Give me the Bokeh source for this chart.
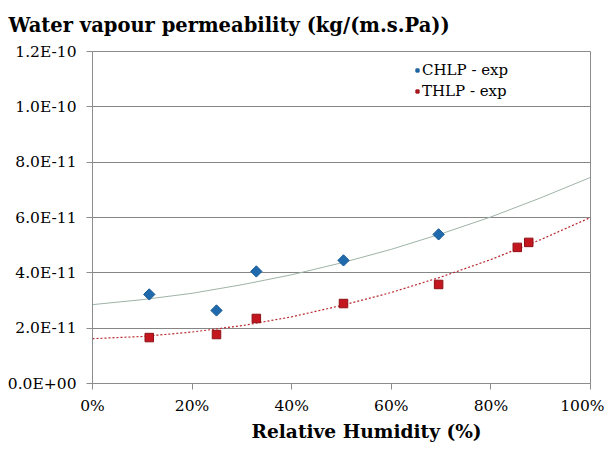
from bokeh.plotting import figure
from bokeh.models import (FixedTicker, CustomJSTickFormatter, NumeralTickFormatter,
                          Range1d, Title, Legend, LegendItem)
from bokeh.embed import file_html
from bokeh.resources import INLINE
import math

# --- data ---
rh_chlp = [0.114, 0.249, 0.329, 0.504, 0.695]
perm_chlp = [3.22e-11, 2.64e-11, 4.05e-11, 4.45e-11, 5.39e-11]

rh_thlp = [0.114, 0.249, 0.329, 0.504, 0.695, 0.853, 0.876]
perm_thlp = [1.66e-11, 1.77e-11, 2.35e-11, 2.89e-11, 3.58e-11, 4.92e-11, 5.10e-11]

# trend curves
trend_rh = [0.0, 0.1, 0.2, 0.3, 0.4, 0.5, 0.6, 0.7, 0.8, 0.9, 1.0]
trend_chlp = [2.85e-11, 3.03e-11, 3.26e-11, 3.57e-11, 3.93e-11, 4.36e-11,
              4.85e-11, 5.41e-11, 6.02e-11, 6.71e-11, 7.45e-11]
trend_thlp = [1.62e-11, 1.70e-11, 1.86e-11, 2.09e-11, 2.41e-11, 2.82e-11,
              3.29e-11, 3.85e-11, 4.48e-11, 5.20e-11, 6.0e-11]

y_ticks = [0.0, 2e-11, 4e-11, 6e-11, 8e-11, 1e-10, 1.2e-10]
x_ticks = [0.0, 0.2, 0.4, 0.6, 0.8, 1.0]

title_text = "Water vapour permeability (kg/(m.s.Pa))"
x_label = "Relative Humidity (%)"
FONT = "DejaVu Serif"

p = figure(width=604, height=444, output_backend="svg", toolbar_location=None,
           x_range=Range1d(0, 1), y_range=Range1d(0, 1.2e-10),
           min_border_left=92, min_border_right=14, min_border_top=51,
           min_border_bottom=61)

p.add_layout(Title(text=title_text, align="left", offset=-84,
                   vertical_align="top",
                   text_font=FONT, text_font_size="19.5px", text_font_style="bold",
                   text_color="#000000", standoff=26), "above")

p.background_fill_color = "#ffffff"
p.border_fill_color = "#ffffff"
p.outline_line_color = "#8c8c8c"
p.outline_line_width = 1

p.xgrid.visible = False
p.ygrid.grid_line_color = "#858585"
p.ygrid.grid_line_width = 1

p.yaxis.ticker = FixedTicker(ticks=y_ticks)
p.yaxis.formatter = CustomJSTickFormatter(code="""
    const s = tick.toExponential(1).toUpperCase();
    const parts = s.split("E");
    let e = parts[1];
    const sign = e[0];
    let d = e.slice(1);
    if (d.length < 2) { d = "0" + d; }
    return parts[0] + "E" + sign + d;
""")
p.xaxis.ticker = FixedTicker(ticks=x_ticks)
p.xaxis.formatter = NumeralTickFormatter(format="0%")

for ax in (p.xaxis, p.yaxis):
    ax.axis_line_color = "#8c8c8c"
    ax.major_tick_line_color = "#8c8c8c"
    ax.minor_tick_line_color = None
    ax.major_tick_out = 6
    ax.major_tick_in = 0
    ax.major_label_text_font = FONT
    ax.major_label_text_font_size = "15.5px"
    ax.major_label_text_color = "#000000"

p.yaxis.major_label_standoff = 10
p.xaxis.major_label_standoff = 7

# x-axis title, shifted right of centre as in the reference
p.add_layout(Title(text=x_label, align="left", offset=159,
                   text_font=FONT, text_font_size="18.6px", text_font_style="bold",
                   text_color="#000000", standoff=2), "below")

p.line(trend_rh, trend_chlp, line_color="#9fb3a6", line_width=1)
p.line(trend_rh, trend_thlp, line_color="#b8282d", line_width=1.2, line_dash="2 2")

r1 = p.scatter(rh_chlp, perm_chlp, marker="square", angle=math.pi / 4, size=8,
               fill_color="#1f6aad", line_color="#1a5a95", line_width=1)
r2 = p.scatter(rh_thlp, perm_thlp, marker="square", size=8.5,
               fill_color="#c3161e", line_color="#8e1016", line_width=1)

legend = Legend(items=[LegendItem(label="CHLP - exp", renderers=[r1]),
                       LegendItem(label="THLP - exp", renderers=[r2])],
                location=(321, 283), border_line_color=None,
                background_fill_alpha=0, padding=0, margin=0, spacing=3,
                glyph_width=8, glyph_height=18, label_height=18, label_standoff=1,
                label_text_font=FONT, label_text_font_size="15px",
                label_text_color="#000000")
p.add_layout(legend)

open("out.html", "w").write(file_html(p, INLINE))
